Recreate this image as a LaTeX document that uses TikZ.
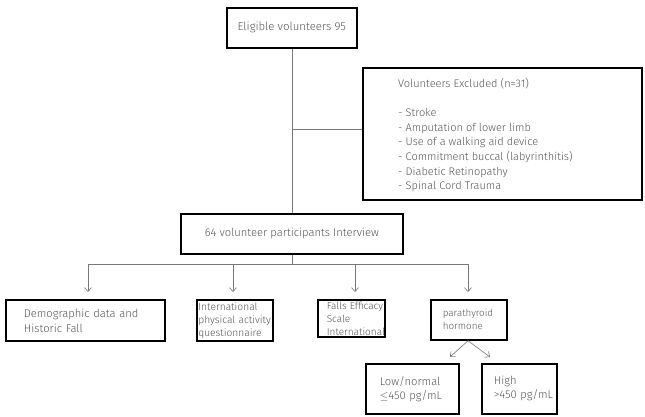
\documentclass[tikz,border=0pt]{standalone}
\usepackage{fontspec}
\setmainfont{Fira Sans}[UprightFont={* Light}]
\usetikzlibrary{arrows.meta}
\definecolor{txt}{HTML}{555555}
\definecolor{lgray}{HTML}{777777}
\tikzset{
  box/.style={draw=black, line width=1.7pt, rectangle, inner ysep=0pt, align=left, text=txt, anchor=north west},
  ln/.style={draw=lgray, line width=0.6pt},
  arr/.style={ln, -{Straight Barb[length=4pt,width=7pt]}},
}
\begin{document}
\begin{tikzpicture}[x=1pt,y=-1pt]
\useasboundingbox (0,0) rectangle (645,416);
% top
\node[box, align=center, minimum width=130, minimum height=40, font=\fontsize{11.4}{13}\selectfont] (elig) at (226,7) {Eligible volunteers 95};
\node[box, minimum width=279, minimum height=132] (excl) at (362,67) {};
\node[anchor=north west, align=left, text=txt, inner sep=0pt, font=\fontsize{11}{14.6}\selectfont] (exclt) at (398,78)
 {Volunteers Excluded (n=31)\\[14.6pt]
  - Stroke\\
  - Amputation of lower limb\\
  - Use of a walking aid device\\
  - Commitment buccal (labyrinthitis)\\
  - Diabetic Retinopathy\\
  - Spinal Cord Trauma};
\node[box, align=center, minimum width=222, minimum height=40, font=\fontsize{11.2}{13}\selectfont] (inter) at (180,213) {64 volunteer participants Interview};
% second level
\node[box, text width=123, inner xsep=18, minimum height=41, font=\fontsize{11.2}{15}\selectfont] (demo) at (5,299) {Demographic data and\\Historic Fall};
\node[box, text width=73, inner xsep=1.5, minimum height=41, font=\fontsize{10.2}{13}\selectfont] (ipaq) at (196,299) {\mbox{International}\\\mbox{physical activity}\\\mbox{questionnaire}};
\node[box, text width=57, inner xsep=5, minimum height=37, font=\fontsize{10}{13}\selectfont] (fes) at (317,299) {\mbox{\hspace*{4pt}Falls Efficacy}\\\mbox{\hspace*{4pt}Scale}\\\mbox{\hspace*{4pt}International}};
\node[box, text width=52, inner xsep=12, minimum height=40, font=\fontsize{9.8}{13}\selectfont] (pth) at (430,299) {\mbox{parathyroid}\\\mbox{hormone}};
\node[box, text width=65, inner xsep=14, minimum height=50, font=\fontsize{11.2}{14}\selectfont] (low) at (365,363) {Low/normal\\\mbox{$\leq$450 pg/mL}};
\node[box, text width=51, inner xsep=12, minimum height=50, font=\fontsize{11.2}{14}\selectfont] (high) at (481,363) {High\\\mbox{>450 pg/mL}};
% connectors
\draw[ln] (elig.south) -- (elig.south |- inter.north);
\draw[ln] (elig.south |- 0,129) coordinate (j1) -- (excl.west |- j1);
\coordinate (bus) at (inter.south |- 0,264);
\coordinate (b1) at (88,264);
\coordinate (b2) at (233,264);
\coordinate (b3) at (355,264);
\coordinate (b4) at (468,264);
\draw[ln] (inter.south) -- (bus);
\draw[ln] (b1) -- (b4);
\draw[arr] (b1) -- ([yshift=7]b1 |- demo.north);
\draw[arr] (b2) -- ([yshift=7]b2 |- ipaq.north);
\draw[arr] (b3) -- ([yshift=7]b3 |- fes.north);
\draw[arr] (b4) -- ([yshift=7]b4 |- pth.north);
\coordinate (ps) at (b4 |- pth.south);
\coordinate (pl) at (450,357);
\coordinate (pr) at (490,357);
\draw[arr] (ps) -- (pl);
\draw[arr] (ps) -- (pr);
\end{tikzpicture}
\end{document}
